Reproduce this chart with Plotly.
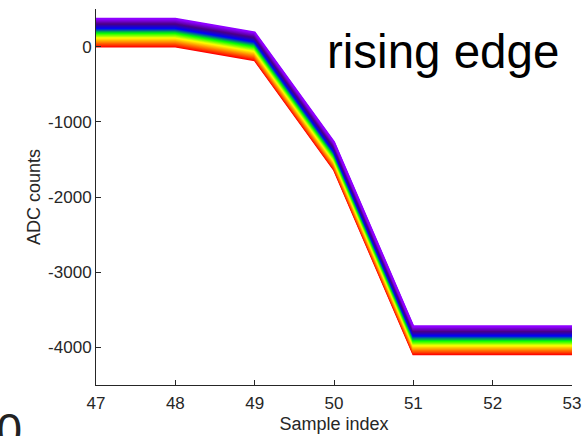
import plotly.graph_objects as go
from plotly.colors import sample_colorscale

# Sample positions along the edge
sample_index = [47, 48, 49, 50, 51, 52, 53]

# Waveform of the lowest trace (ADC counts)
edge_counts = [0, 0, -180, -1640, -4090, -4090, -4090]

# Baseline shift of each trace relative to the lowest one
trace_offsets = [
    0, 10, 20, 30, 40, 50, 60, 70, 80, 90,
    100, 110, 120, 130, 140, 150, 160, 170, 180, 190,
    200, 210, 220, 230, 240, 250, 260, 270, 280, 290,
    300, 310, 320, 330, 340, 350, 360, 370,
]

x_ticks = [47, 48, 49, 50, 51, 52, 53]
y_ticks = [0, -1000, -2000, -3000, -4000]

rainbow = [
    [0.00, "#ff0000"],
    [0.17, "#ff8000"],
    [0.33, "#ffff00"],
    [0.50, "#00ff00"],
    [0.67, "#0000ff"],
    [0.83, "#4b0082"],
    [1.00, "#8f00ff"],
]

n = len(trace_offsets)
colors = sample_colorscale(rainbow, [i / (n - 1) for i in range(n)])

fig = go.Figure()
for off, col in zip(trace_offsets, colors):
    fig.add_trace(go.Scatter(
        x=sample_index,
        y=[v + off for v in edge_counts],
        mode="lines",
        line=dict(color=col, width=2),
        showlegend=False,
        hoverinfo="skip",
    ))

axis_col = "#262626"
font_family = "Liberation Sans, Arial, sans-serif"

fig.update_layout(
    width=587,
    height=436,
    margin=dict(l=96, r=15, t=9, b=51, autoexpand=False),
    paper_bgcolor="white",
    plot_bgcolor="white",
    font=dict(family=font_family, color=axis_col, size=17),
    xaxis=dict(
        range=[47, 53],
        tickvals=x_ticks,
        ticktext=[str(v) for v in x_ticks],
        ticks="inside",
        ticklen=5,
        tickwidth=1,
        tickcolor=axis_col,
        showline=True,
        linecolor=axis_col,
        linewidth=1,
        showgrid=False,
        zeroline=False,
        automargin=False,
        tickfont=dict(size=17),
        ticklabelstandoff=3,
        title=dict(text="Sample index", font=dict(size=18), standoff=4),
    ),
    yaxis=dict(
        range=[-4500, 500],
        tickvals=y_ticks,
        ticktext=[str(v) for v in y_ticks],
        ticks="inside",
        ticklen=5,
        tickwidth=1,
        tickcolor=axis_col,
        showline=True,
        linecolor=axis_col,
        linewidth=1,
        showgrid=False,
        zeroline=False,
        automargin=False,
        tickfont=dict(size=17),
        title=dict(text="ADC counts", font=dict(size=18), standoff=2),
    ),
    annotations=[
        dict(
            text="rising edge",
            xref="paper", yref="paper",
            x=0.481, y=0.888,
            xanchor="left", yanchor="middle",
            showarrow=False,
            font=dict(size=47.5, color="black", family=font_family),
        ),
        dict(
            text="50",
            xref="paper", yref="paper",
            x=-0.151, y=-0.12,
            xanchor="right", yanchor="middle",
            showarrow=False,
            font=dict(size=46, color="#222222", family=font_family),
        ),
    ],
)

fig.write_html("out.html")
